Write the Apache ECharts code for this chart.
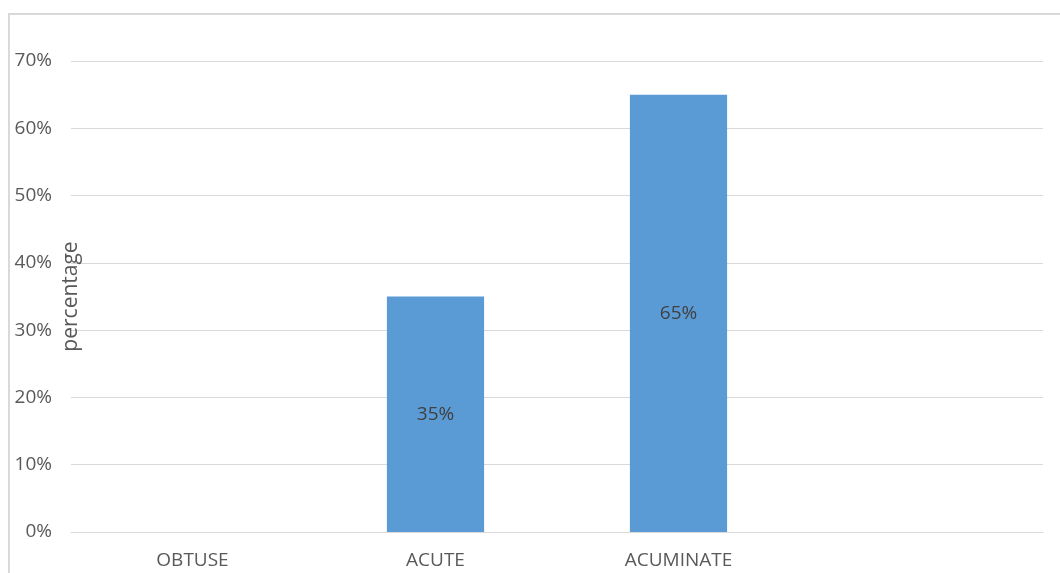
<!DOCTYPE html>
<html>
<head>
<meta charset="utf-8">
<script src="https://cdn.jsdelivr.net/npm/echarts@6/dist/echarts.min.js"></script>
<style>
html,body{margin:0;padding:0;background:#fff;}
#chart{width:1060px;height:573px;}
</style>
</head>
<body>
<div id="chart"></div>
<script>
const categories = ['OBTUSE', 'ACUTE', 'ACUMINATE', ''];
const percentages = [0, 35, 65, null];
const yTicks = [0, 10, 20, 30, 40, 50, 60, 70];

const chart = echarts.init(document.getElementById('chart'), null, {renderer: 'canvas'});
const FONT = 'Open Sans';
chart.setOption({
  animation: false,
  backgroundColor: '#fff',
  graphic: [{
    type: 'rect', silent: true, z: -1,
    shape: {x: 9, y: 14, width: 1200, height: 700},
    style: {fill: 'none', stroke: '#D9D9D9', lineWidth: 2}
  }],
  grid: {left: 71, right: 17, top: 61, bottom: 41, containLabel: false, outerBoundsMode: 'none'},
  xAxis: {
    type: 'category',
    data: categories,
    axisLine: {show: true, lineStyle: {color: '#D9D9D9', width: 1}},
    axisTick: {show: false},
    axisLabel: {color: '#595959', fontFamily: FONT, fontSize: 19, margin: 19}
  },
  yAxis: {
    type: 'value',
    min: yTicks[0], max: yTicks[yTicks.length - 1], interval: 10,
    name: 'percentage',
    nameLocation: 'middle',
    nameRotate: 90,
    nameGap: -11,
    nameMoveOverlap: false,
    nameTextStyle: {color: '#595959', fontFamily: FONT, fontSize: 21},
    axisLine: {show: false},
    axisTick: {show: false},
    axisLabel: {color: '#595959', fontFamily: FONT, fontSize: 19, margin: 19,
      formatter: v => v + '%'},
    splitLine: {lineStyle: {color: '#D9D9D9', width: 1}}
  },
  series: [{
    type: 'bar',
    data: percentages,
    barWidth: '40%',
    itemStyle: {color: '#5B9BD5'},
    label: {
      show: true, position: 'inside',
      color: '#404040', fontFamily: FONT, fontSize: 19,
      formatter: p => (p.value ? p.value + '%' : '')
    }
  }]
});
</script>
</body>
</html>
